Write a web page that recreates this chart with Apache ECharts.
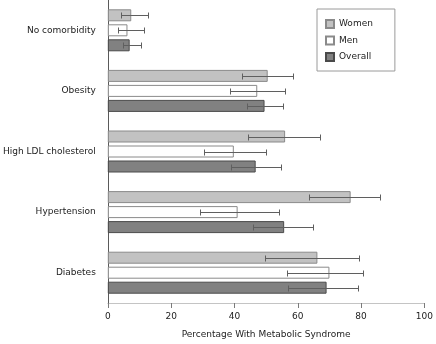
<!DOCTYPE html>
<html>
<head>
<meta charset="utf-8">
<script src="https://cdn.jsdelivr.net/npm/echarts@6/dist/echarts.min.js"></script>
<style>html,body{margin:0;padding:0;background:#fff}#c{width:436px;height:344px}</style>
</head>
<body>
<div id="c"></div>
<script>
var categories = ['No comorbidity', 'Obesity', 'High LDL cholesterol', 'Hypertension', 'Diabetes'];
var xTicks = [0, 20, 40, 60, 80, 100];
var women = [7.4, 50.5, 56.0, 76.7, 66.2];
var womenLow = [4.2, 42.4, 44.3, 63.6, 49.5];
var womenHigh = [12.7, 58.5, 67.0, 86.1, 79.4];
var men = [6.2, 47.2, 39.8, 41.0, 70.0];
var menLow = [3.1, 38.6, 30.5, 29.1, 56.5];
var menHigh = [11.4, 55.9, 50.0, 54.0, 80.7];
var overall = [6.9, 49.5, 46.7, 55.7, 69.1];
var overallLow = [4.7, 43.9, 38.9, 46.0, 56.8];
var overallHigh = [10.5, 55.2, 54.6, 64.9, 79.1];

var FONT = 'DejaVu Sans';
var BAR_W = 12, BAR_GAP = 3;

function errSeries(name, lows, highs, slot) {
  var data = lows.map(function (l, i) { return [i, l, highs[i]]; });
  return {
    type: 'custom', name: name + ' CI', silent: true, z: 5,
    data: data,
    encode: { x: [1, 2], y: 0 },
    renderItem: function (params, api) {
      var c = api.value(0);
      var p1 = api.coord([api.value(1), c]);
      var p2 = api.coord([api.value(2), c]);
      var y = Math.round(p1[1] + slot * (BAR_W + BAR_GAP)) + 0.5;
      var x1 = Math.round(p1[0]) + 0.5, x2 = Math.round(p2[0]) + 0.5;
      var h = 3;
      var st = { stroke: '#5f5f5f', lineWidth: 1 };
      return {
        type: 'group',
        children: [
          { type: 'line', shape: { x1: x1, y1: y, x2: x2, y2: y }, style: st },
          { type: 'line', shape: { x1: x1, y1: y - h, x2: x1, y2: y + h }, style: st },
          { type: 'line', shape: { x1: x2, y1: y - h, x2: x2, y2: y + h }, style: st }
        ]
      };
    }
  };
}

var chart = echarts.init(document.getElementById('c'), null, { renderer: 'canvas' });
chart.setOption({
  animation: false,
  backgroundColor: '#ffffff',
  textStyle: { fontFamily: FONT },
  grid: { left: 105, right: 8, top: 0, bottom: 39, containLabel: false },
  legend: {
    data: ['Women', 'Men', 'Overall'],
    orient: 'vertical',
    left: 317, top: 9,
    width: 76,
    padding: [10, 22, 9, 8],
    borderColor: '#9a9a9a', borderWidth: 1,
    itemWidth: 8, itemHeight: 8, itemGap: 6.5,
    textStyle: { fontFamily: FONT, fontSize: 9, color: '#222' },
    icon: 'rect'
  },
  xAxis: {
    type: 'value', min: xTicks[0], max: xTicks[xTicks.length - 1], interval: 20,
    name: 'Percentage With Metabolic Syndrome',
    nameLocation: 'middle', nameGap: 27,
    nameTextStyle: { fontFamily: FONT, fontSize: 9, color: '#222' },
    axisLine: { show: true, lineStyle: { color: '#c4c4c4', width: 1 } },
    axisTick: { show: true, length: 5, lineStyle: { color: '#7a7a7a' } },
    axisLabel: { fontFamily: FONT, fontSize: 9, color: '#222', margin: 9 },
    splitLine: { show: false }
  },
  yAxis: {
    type: 'category', data: categories, inverse: true,
    axisLine: { show: true, lineStyle: { color: '#5a5a5a', width: 1 } },
    axisTick: { show: false },
    axisLabel: { fontFamily: FONT, fontSize: 9, color: '#222', margin: 12 }
  },
  series: [
    { name: 'Women', type: 'bar', data: women, barWidth: BAR_W, barGap: '25%',
      itemStyle: { color: '#c2c2c2', borderColor: '#8a8a8a', borderWidth: 1 } },
    { name: 'Men', type: 'bar', data: men, barWidth: BAR_W, barGap: '25%',
      itemStyle: { color: '#ffffff', borderColor: '#8a8a8a', borderWidth: 1 } },
    { name: 'Overall', type: 'bar', data: overall, barWidth: BAR_W, barGap: '25%',
      itemStyle: { color: '#818181', borderColor: '#4a4a4a', borderWidth: 1 } },
    errSeries('Women', womenLow, womenHigh, -1),
    errSeries('Men', menLow, menHigh, 0),
    errSeries('Overall', overallLow, overallHigh, 1)
  ]
});
</script>
</body>
</html>
